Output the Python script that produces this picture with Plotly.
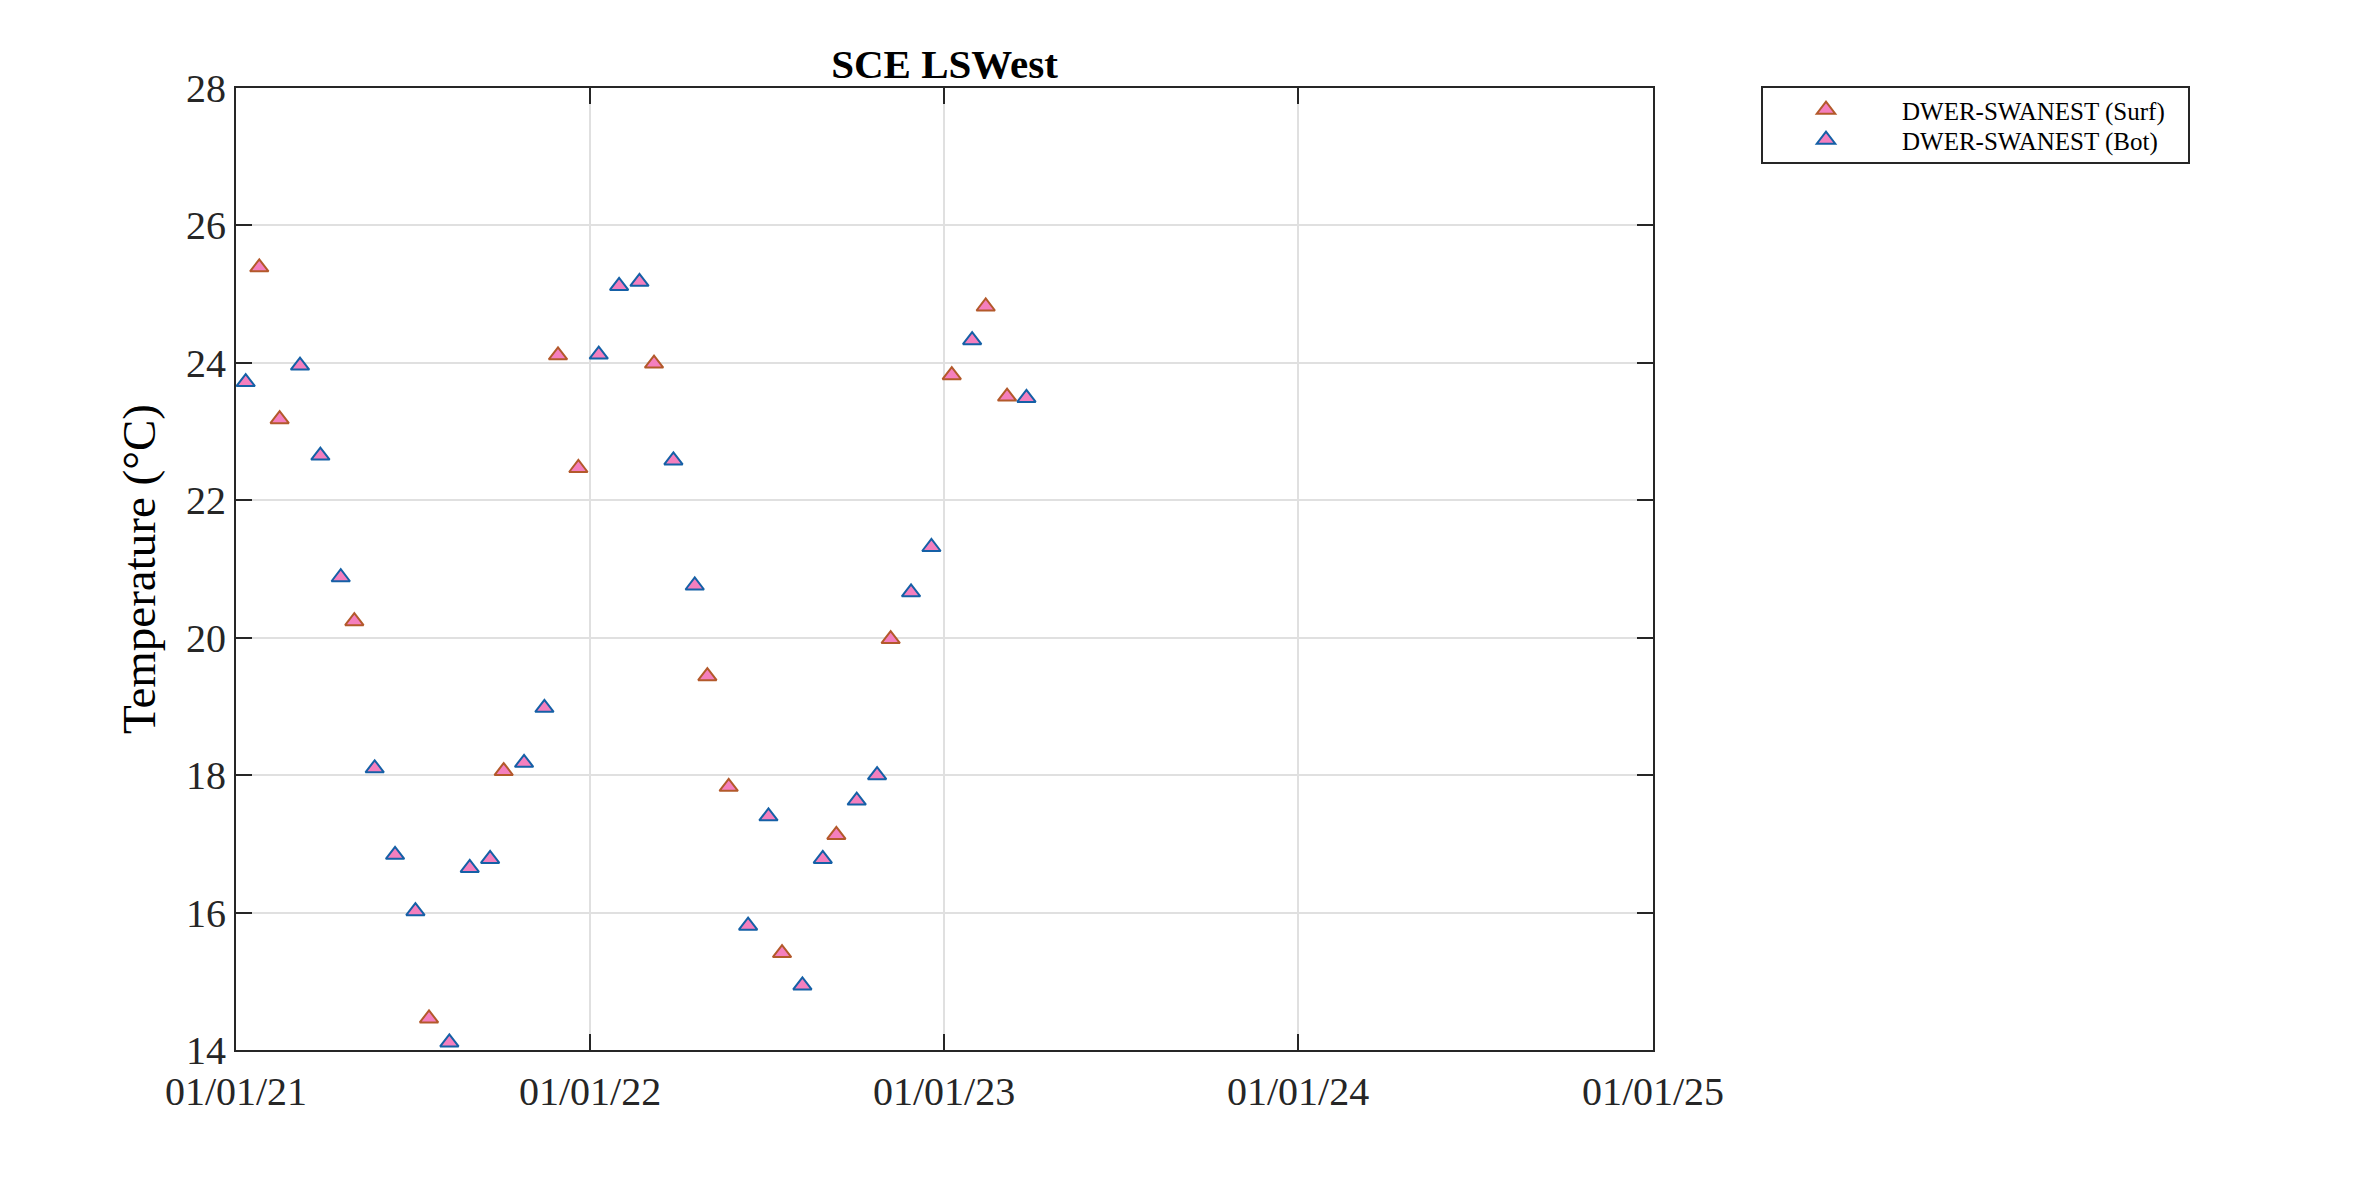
import plotly.graph_objects as go

# DWER-SWANEST surface samples
surf_dates = [
    "2021-01-25", "2021-02-15", "2021-05-03", "2021-07-19", "2021-10-04",
    "2021-11-29", "2021-12-20", "2022-03-08", "2022-05-02", "2022-05-24",
    "2022-07-18", "2022-09-12", "2022-11-07", "2023-01-09", "2023-02-13",
    "2023-03-07",
]
surf_temp = [
    25.39, 23.18, 20.24, 14.46, 18.06,
    24.11, 22.47, 23.99, 19.44, 17.83,
    15.41, 17.13, 19.98, 23.82, 24.82,
    23.51,
]

# DWER-SWANEST bottom samples
bot_dates = [
    "2021-01-11", "2021-03-08", "2021-03-29", "2021-04-19", "2021-05-24",
    "2021-06-14", "2021-07-05", "2021-08-09", "2021-08-30", "2021-09-20",
    "2021-10-25", "2021-11-15", "2022-01-10", "2022-01-31", "2022-02-21",
    "2022-03-28", "2022-04-19", "2022-06-13", "2022-07-04", "2022-08-08",
    "2022-08-29", "2022-10-03", "2022-10-24", "2022-11-28", "2022-12-19",
    "2023-01-30", "2023-03-27",
]
bot_temp = [
    23.72, 23.96, 22.65, 20.88, 18.10,
    16.84, 16.02, 14.11, 16.65, 16.78,
    18.18, 18.98, 24.12, 25.12, 25.18,
    22.58, 20.76, 15.81, 17.40, 14.94,
    16.78, 17.63, 18.00, 20.66, 21.32,
    24.33, 23.49,
]

year_ticks = ["2021-01-01", "2022-01-01", "2023-01-01", "2024-01-01", "2025-01-01"]

FONT = "Liberation Serif, Times New Roman, serif"
AXIS_COLOR = "#262626"
GRID_COLOR = "#e0e0e0"
FILL = "#f47fbe"

# plot area in page pixels (page body has an 8px margin)
PLOT_W, PLOT_H = 1417, 962


def _legend(y):
    return {"x": (1750 - 236) / PLOT_W, "y": y, "xanchor": "left", "yanchor": "middle",
            "bgcolor": "rgba(0,0,0,0)", "borderwidth": 0,
            "font": {"family": FONT, "size": 25, "color": "black"},
            "itemwidth": 142}


fig = go.Figure()
fig.add_trace(go.Scatter(
    x=surf_dates, y=surf_temp, mode="markers", name="DWER-SWANEST (Surf)",
    marker={"symbol": "triangle-up", "size": 16, "color": FILL,
            "line": {"color": "#b3592b", "width": 2}},
    legend="legend",
))
fig.add_trace(go.Scatter(
    x=bot_dates, y=bot_temp, mode="markers", name="DWER-SWANEST (Bot)",
    marker={"symbol": "triangle-up", "size": 16, "color": FILL,
            "line": {"color": "#1560a6", "width": 2}},
    legend="legend2",
))

fig.update_layout(
    width=2346,
    height=1165,
    paper_bgcolor="white",
    plot_bgcolor="white",
    margin={"l": 228, "r": 2346 - 228 - PLOT_W, "t": 80, "b": 1165 - 80 - PLOT_H},
    font={"family": FONT, "size": 40, "color": AXIS_COLOR},
    title={"text": "<b>SCE LSWest</b>", "x": 0.5, "xanchor": "center",
           "xref": "paper", "y": 1.0, "yref": "paper", "yanchor": "bottom",
           "pad": {"b": 10}, "font": {"family": FONT, "size": 41, "color": "black"}},
    showlegend=True,
    legend=_legend((1050 - 110) / PLOT_H),
    legend2=_legend((1050 - 140) / PLOT_H),
)

fig.update_xaxes(
    type="date",
    range=["2021-01-01", "2025-01-01"],
    tickvals=year_ticks,
    tickformat="%m/%d/%y",
    showgrid=True, gridcolor=GRID_COLOR, gridwidth=1.5,
    showline=True, linecolor=AXIS_COLOR, linewidth=2, mirror="ticks",
    ticks="inside", ticklen=16, tickwidth=2, tickcolor=AXIS_COLOR,
    ticklabelstandoff=5,
    zeroline=False,
)
fig.update_yaxes(
    range=[14, 28],
    dtick=2,
    showgrid=True, gridcolor=GRID_COLOR, gridwidth=1.5,
    showline=True, linecolor=AXIS_COLOR, linewidth=2, mirror="ticks",
    ticks="inside", ticklen=16, tickwidth=2, tickcolor=AXIS_COLOR,
    zeroline=False,
    title={"text": "Temperature (°C)", "font": {"family": FONT, "size": 47, "color": "black"},
           "standoff": 16},
)

# legend frame
fig.add_shape(type="rect", xref="paper", yref="paper",
              x0=(1762 - 236) / PLOT_W, x1=(2189 - 236) / PLOT_W,
              y0=(1050 - 163) / PLOT_H, y1=(1050 - 87) / PLOT_H,
              line={"color": AXIS_COLOR, "width": 2}, fillcolor="rgba(0,0,0,0)")

fig.write_html("out.html")
